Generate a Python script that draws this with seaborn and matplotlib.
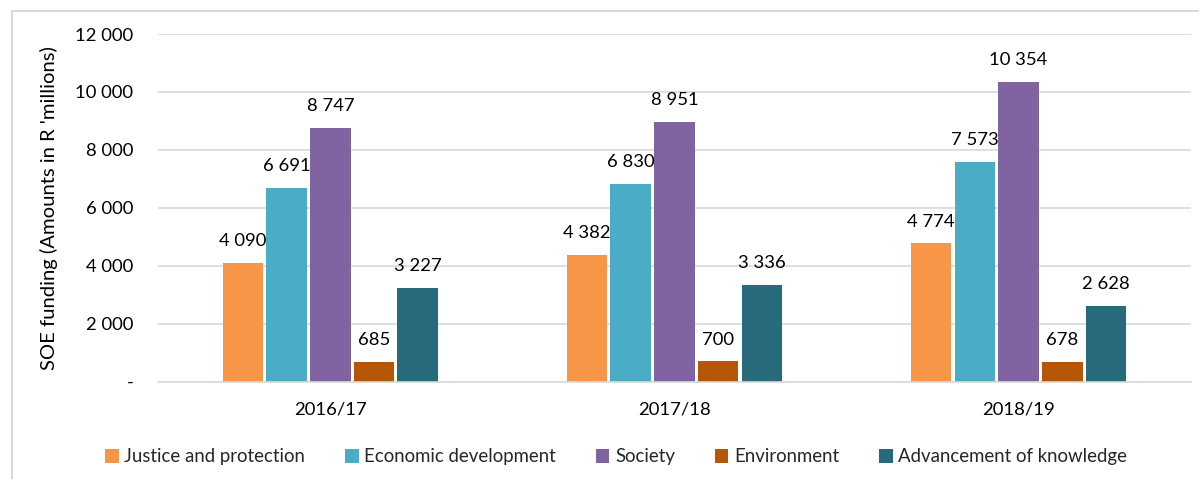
import matplotlib
matplotlib.use("Agg")
import matplotlib.pyplot as plt
from matplotlib.lines import Line2D
from matplotlib.patches import Patch
import seaborn as sns
import pandas as pd

years = ["2016/17", "2017/18", "2018/19"]
categories = ["Justice and protection", "Economic development", "Society",
              "Environment", "Advancement of knowledge"]
justice = [4090, 4382, 4774]
economic = [6691, 6830, 7573]
society = [8747, 8951, 10354]
environment = [685, 700, 678]
knowledge = [3227, 3336, 2628]

colors = ["#F79646", "#4BACC6", "#8064A2", "#B65708", "#276A7C"]

series = [justice, economic, society, environment, knowledge]
rows = []
for cat, vals in zip(categories, series):
    for yr, v in zip(years, vals):
        rows.append({"Year": yr, "Category": cat, "Value": v})
df = pd.DataFrame(rows)

sns.set_theme(style="white")
plt.rcParams["font.family"] = ["Lato", "DejaVu Sans"]

fig = plt.figure(figsize=(11.99, 4.79), dpi=100)
ax = fig.add_axes([0.132, 0.203, 0.861, 0.726])

sns.barplot(data=df, x="Year", y="Value", hue="Category", hue_order=categories,
            palette=colors, width=0.635, gap=0.07, saturation=1,
            edgecolor="none", legend=False, ax=ax)

def fmt(v):
    return f"{v:,}".replace(",", " ")

for cont in ax.containers:
    for bar in cont:
        h = bar.get_height()
        ax.annotate(fmt(int(round(h))), (bar.get_x() + bar.get_width() / 2, h),
                    xytext=(0, 10), textcoords="offset points",
                    ha="center", va="bottom", fontsize=13.3, color="#000000")

ax.set_ylim(0, 12000)
ax.set_xlim(-0.5, 2.5)
ax.set_yticks(range(0, 12001, 2000))
ax.set_yticklabels(["-"] + [fmt(v) for v in range(2000, 12001, 2000)])
ax.tick_params(axis="y", labelsize=13.3, length=0, pad=18, colors="#000000")
ax.tick_params(axis="x", labelsize=13.3, length=0, pad=14, colors="#000000")
ax.yaxis.grid(True, color="#D9D9D9", linewidth=1.2)
ax.set_axisbelow(True)
for side in ["top", "right", "left"]:
    ax.spines[side].set_visible(False)
ax.spines["bottom"].set_color("#D9D9D9")
ax.spines["bottom"].set_linewidth(1.2)
ax.set_xlabel("")
ax.set_ylabel("SOE funding (Amounts in R 'millions)", fontsize=14.6,
              color="#000000", labelpad=12)

handles = [Patch(facecolor=c, edgecolor="none") for c in colors]
fig.legend(handles, categories, loc="center", bbox_to_anchor=(0.514, 0.046),
           ncol=5, frameon=False, fontsize=13.4, handlelength=0.72,
           handleheight=0.72, handletextpad=0.3, columnspacing=2.15)

# light frame around the chart area
fig.add_artist(Line2D([0.0097, 0.0097], [0.0, 0.977], transform=fig.transFigure,
                      color="#D9D9D9", linewidth=1.5))
fig.add_artist(Line2D([0.0097, 1.0], [0.977, 0.977], transform=fig.transFigure,
                      color="#D9D9D9", linewidth=1.5))

fig.savefig("out.png", dpi=100, facecolor="white")
